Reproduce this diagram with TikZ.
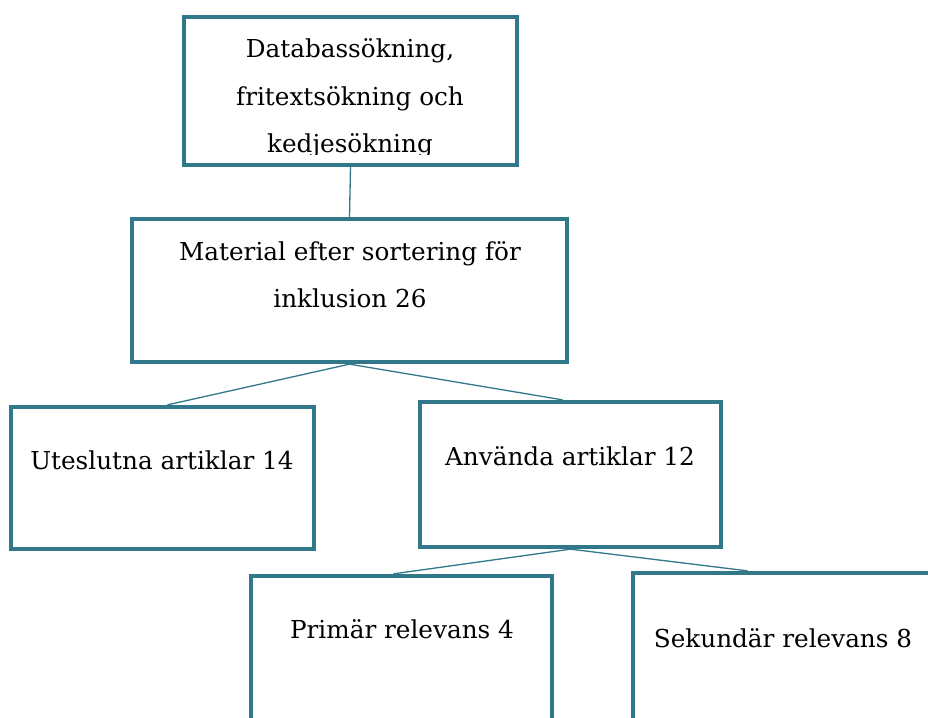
\documentclass[tikz,border=0pt]{standalone}
\usepackage{fontspec}
\setmainfont{DejaVu Serif}
\usetikzlibrary{calc}
\definecolor{teal1}{HTML}{31788A}
\tikzset{
  boxnode/.style={draw=teal1, line width=4.3pt, fill=white, rectangle, inner sep=0pt},
  txt/.style={anchor=base, inner sep=0pt, font=\fontsize{24.7}{28}\selectfont, text=black},
  conn/.style={draw=teal1, line width=1.3pt}
}
\begin{document}
\begin{tikzpicture}[x=1pt, y=-1pt]
\useasboundingbox (0,0) rectangle (928,717);
\clip (0,0) rectangle (928,717);
\fill[white] (0,0) rectangle (928,717);
% boxes
\node[boxnode, minimum width=333pt, minimum height=148pt] (b1) at (350.5,91) {};
\node[boxnode, minimum width=435pt, minimum height=143pt] (b2) at (349.5,290.5) {};
\node[boxnode, minimum width=303pt, minimum height=142pt] (ute) at (162.5,478) {};
\node[boxnode, minimum width=301pt, minimum height=145pt] (ana) at (570.5,474.5) {};
\node[boxnode, minimum width=301pt, minimum height=150pt] (pri) at (401.5,651) {};
\node[boxnode, minimum width=301pt, minimum height=150pt] (sek) at (783.5,648) {};
% connectors
\draw[conn] (b1.south) -- (b2.north);
\draw[conn] (b2.south) -- ([xshift=5pt]ute.north);
\draw[conn] (b2.south) -- ([xshift=-8pt]ana.north);
\draw[conn] (ana.south) -- ([xshift=-8pt]pri.north);
\draw[conn] (ana.south) -- ([xshift=-36pt]sek.north);
% texts
\begin{scope}
\clip (180,15) rectangle (520,154);
\node[txt] (t1a) at (350,58) {Databassökning,};
\node[txt] (t1b) at (350,105) {fritextsökning och};
\node[txt] (t1c) at (350,152) {kedjesökning};
\end{scope}
\node[txt] (t2a) at (350,260) {Material efter sortering för};
\node[txt] (t2b) at (350,307) {inklusion 26};
\node[txt] (t3) at (162,469) {Uteslutna artiklar 14};
\node[txt] (t4) at (570,465) {Använda artiklar 12};
\node[txt] (t5) at (402,638) {Primär relevans 4};
\node[txt] (t6) at (783,647) {Sekundär relevans 8};
\end{tikzpicture}
\end{document}
